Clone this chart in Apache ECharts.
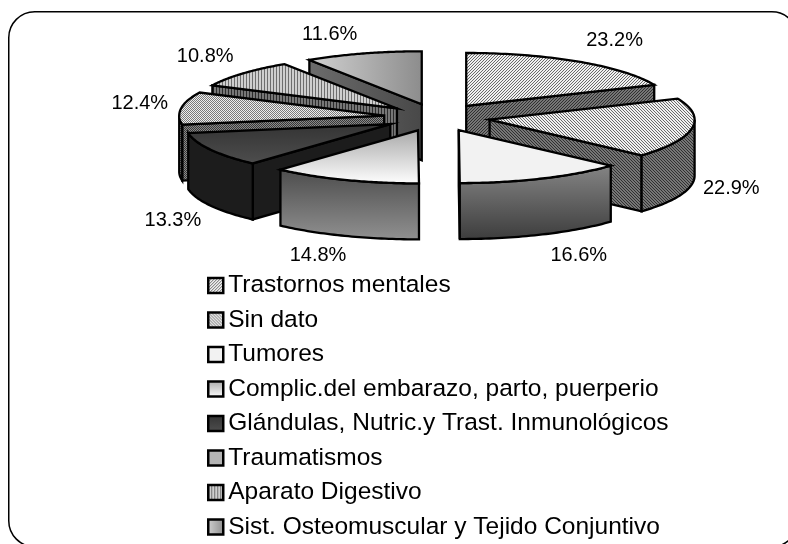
<!DOCTYPE html>
<html>
<head>
<meta charset="utf-8">
<style>html,body{margin:0;padding:0;background:#fff}#main{width:788px;height:544px}</style>
<script src="https://cdn.jsdelivr.net/npm/echarts@6/dist/echarts.min.js"></script>
</head>
<body>
<div id="main"></div>
<script>
var categories = ["Trastornos mentales", "Sin dato", "Tumores", "Complic.del embarazo, parto, puerperio",
    "Glándulas, Nutric.y Trast. Inmunológicos", "Traumatismos", "Aparato Digestivo", "Sist. Osteomuscular y Tejido Conjuntivo"];
var values = [23.2, 22.9, 16.6, 14.8, 13.3, 12.4, 10.8, 11.6];
var drawOrder = [0, 7, 6, 5, 1, 4, 2, 3];   // back to front
// nudge of each label from its computed spot
var labelShift = [[18, -14], [7, 3], [23, 13], [-15, 12], [-9, 11], [-9, -4], [-13, -11], [-24, -11]];

// pie geometry
var cx = 437, cy = 117.5, rx = 205, ry = 53, wall = 56, explode = 0.26;

function tile(w, h, bg, fg, test) {
    var c = document.createElement("canvas");
    c.width = w; c.height = h;
    var g = c.getContext("2d");
    g.fillStyle = bg; g.fillRect(0, 0, w, h);
    g.fillStyle = fg;
    for (var x = 0; x < w; x++) for (var y = 0; y < h; y++) if (test(x, y)) g.fillRect(x, y, 1, 1);
    return {image: c, repeat: "repeat"};
}
function grad(x2, y2, a, b) {
    return new echarts.graphic.LinearGradient(0, 0, x2, y2, [{offset: 0, color: a}, {offset: 1, color: b}]);
}
function diag(x, y) { return (x + y) % 3 == 0; }
function anti(x, y) { return (x + 3 - y % 3) % 3 == 0; }
function dots(x, y) { return (x + y) % 2 == 0; }
function bars(x, y) { return x % 3 == 0; }

var topFills = [
    tile(3, 3, "#f0f0f0", "#6a6a6a", diag),
    tile(3, 3, "#f0f0f0", "#6a6a6a", anti),
    "#f2f2f2",
    grad(0, 1, "#a8a8a8", "#ffffff"),
    grad(0, 1, "#333333", "#4e4e4e"),
    tile(2, 2, "#eeeeee", "#7a7a7a", dots),
    tile(3, 1, "#cfcfcf", "#6e6e6e", bars),
    grad(1, 0, "#d2d2d2", "#8c8c8c")
];
var sideFills = [
    tile(3, 3, "#767676", "#303030", diag),
    tile(3, 3, "#767676", "#303030", anti),
    grad(0, 1, "#858585", "#3c3c3c"),
    grad(0, 1, "#4c4c4c", "#919191"),
    "#1c1c1c",
    tile(2, 2, "#8a8a8a", "#383838", dots),
    tile(3, 1, "#777777", "#2c2c2c", bars),
    grad(1, 0, "#6c6c6c", "#484848")
];

var total = values.reduce(function (a, b) { return a + b; }, 0);

function rim(deg, ox, oy, drop) {
    var t = deg * Math.PI / 180;
    return [ox + rx * Math.sin(t), oy - ry * Math.cos(t) + drop];
}
function poly(points, fill) {
    return {type: "polygon", shape: {points: points},
        style: {fill: fill, stroke: "#000", lineWidth: 2.3, lineJoin: "miter"}};
}
function wallQuad(deg, ox, oy, fill) {
    var a = rim(deg, ox, oy, 0);
    return poly([[ox, oy], a, [a[0], a[1] + wall], [ox, oy + wall]], fill);
}

function sliceRender(i) {
    return function (params, api) {
        var v = api.value(0);
        var before = 0;
        for (var k = 0; k < i; k++) before += values[k];
        var a0 = before / total * 360, a1 = (before + v) / total * 360, mid = (a0 + a1) / 2;
        var t = mid * Math.PI / 180;
        var ox = cx + explode * rx * Math.sin(t), oy = cy - explode * ry * Math.cos(t);
        var kids = [];
        // walls that face the viewer
        if (Math.sin(a0 * Math.PI / 180) < -0.001) kids.push(wallQuad(a0, ox, oy, sideFills[i]));
        if (Math.sin(a1 * Math.PI / 180) > 0.001) kids.push(wallQuad(a1, ox, oy, sideFills[i]));
        var f0 = Math.max(a0, 90), f1 = Math.min(a1, 270);
        if (f1 > f0) {
            var up = [], down = [];
            for (var d = 0; d <= 40; d++) {
                var p = f0 + (f1 - f0) * d / 40;
                up.push(rim(p, ox, oy, 0));
                down.unshift(rim(p, ox, oy, wall));
            }
            kids.push(poly(up.concat(down), sideFills[i]));
        }
        var face = [[ox, oy]];
        for (var e = 0; e <= 60; e++) face.push(rim(a0 + (a1 - a0) * e / 60, ox, oy, 0));
        kids.push(poly(face, topFills[i]));
        // percent label just outside the rim
        var drop = Math.cos(t) < 0 ? wall : 0;
        var lp = rim(mid, cx, cy, drop);
        var lx = lp[0] + (lp[0] - cx) * 0.42 + labelShift[i][0];
        var ly = lp[1] + (lp[1] - drop - cy) * 0.42 + labelShift[i][1];
        kids.push({type: "text", x: lx, y: ly, z2: 50, style: {
            text: v.toFixed(1) + "%", fill: "#000", align: "center", verticalAlign: "middle",
            font: "20px 'Liberation Sans', Arial, sans-serif"}});
        return {type: "group", children: kids};
    };
}

var Mychart = echarts.init(document.getElementById("main"), null, {renderer: "canvas"});
var option = {
    animation: false,
    backgroundColor: "#fff",
    legend: {
        orient: "vertical", left: 202, top: 268, height: 280,
        itemWidth: 15, itemHeight: 15, itemGap: 9.5,
        selectedMode: false,
        textStyle: {fontFamily: "'Liberation Sans', Arial, sans-serif", fontSize: 24.5, color: "#000"},
        data: categories.map(function (name, i) {
            return {name: name, icon: "rect",
                itemStyle: {color: topFills[i], borderColor: "#000", borderWidth: 2.5}};
        })
    },
    graphic: [{type: "rect", left: 8, top: 11, z: -1, silent: true,
        shape: {x: 0, y: 0, width: 789, height: 535, r: 26},
        style: {fill: "#fff", stroke: "#000", lineWidth: 1.5}}],
    series: drawOrder.map(function (i) {
        return {type: "custom", name: categories[i], coordinateSystem: "none",
            data: [[values[i]]], renderItem: sliceRender(i), silent: true};
    })
};
Mychart.setOption(option);
</script>
</body>
</html>
